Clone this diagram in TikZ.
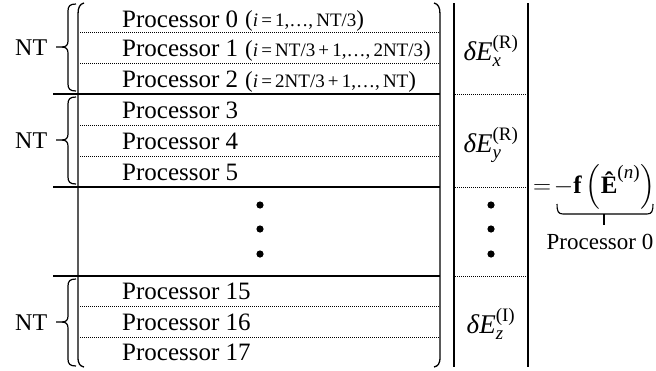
\documentclass[tikz,border=0pt]{standalone}
\usepackage{fix-cm}
\usepackage{amsmath}
\usepackage{fontspec}
\setmainfont{Liberation Serif}
\begin{document}
\begin{tikzpicture}[x=1pt,y=-1pt,
  solidline/.style={line width=1.3pt},
  dotline/.style={line width=0.8pt,dash pattern=on 0.8pt off 1.2pt},
  proc/.style={anchor=base west,inner sep=0pt,font=\fontsize{25}{30}\selectfont},
  rng/.style={anchor=base west,inner sep=0pt,font=\fontsize{19}{23}\selectfont},
  ntlab/.style={anchor=base west,inner sep=0pt,font=\fontsize{24}{29}\selectfont},
  vec/.style={anchor=base,inner sep=0pt,font=\fontsize{27}{32}\selectfont},
  eqn/.style={anchor=base west,inner sep=0pt,font=\fontsize{25}{30}\selectfont},
  bigdot/.style={fill=black},
  ntbr/.pic={
    \draw[line width=1.2pt] (20,-43) .. controls (14,-43) and (12,-41) .. (12,-36) -- (12,-6)
      .. controls (12,-2) and (10,0) .. (6,0) -- (0,0);
    \draw[line width=1.2pt] (6,0) .. controls (10,0) and (12,2) .. (12,6) -- (12,37)
      .. controls (12,42) and (14,44) .. (20,44);
  }]
\useasboundingbox (0,0) rectangle (656,370);
\newcommand\supR[1]{\text{\fontsize{19}{21}\selectfont(#1)}}
\newcommand\bigpar[1]{{\fontsize{23}{23}\selectfont\raisebox{-0.5pt}{#1}}}

% big matrix brackets
\draw[solidline] (84,3) .. controls (80,4) and (78,7) .. (78,14) -- (78,357) .. controls (78,364) and (80,366) .. (84,367);
\draw[solidline] (434,3) .. controls (438,4) and (440,7) .. (440,14) -- (440,357) .. controls (440,364) and (438,366) .. (434,367);

% solid separators
\foreach \yy in {94,187,276} \draw[solidline] (53,\yy) -- (440,\yy);
% dotted separators
\foreach \yy in {32,63,125,156,306,337} \draw[dotline] (80,\yy) -- (439,\yy);

% processor labels
\node[proc] (p0) at (122,27) {Processor 0};
\node[proc] (p1) at (122,56) {Processor 1};
\node[proc] (p2) at (122,87) {Processor 2};
\node[proc] (p3) at (122,118) {Processor 3};
\node[proc] (p4) at (122,149) {Processor 4};
\node[proc] (p5) at (122,180) {Processor 5};
\node[proc] (p15) at (122,299) {Processor 15};
\node[proc] (p16) at (122,330) {Processor 16};
\node[proc] (p17) at (122,360) {Processor 17};

\node[rng] (r0) at (245,26) {\bigpar{(}\textit{i}\,=\,1,…,\,NT/3\bigpar{)}};
\node[rng] (r1) at (245,56) {\bigpar{(}\textit{i}\,=\,NT/3\,+\,1,…,\,2NT/3\bigpar{)}};
\node[rng] (r2) at (245,87) {\bigpar{(}\textit{i}\,=\,2NT/3\,+\,1,…,\,NT\bigpar{)}};

% dots in matrix
\foreach \yy in {205,229,254} \fill[bigdot] (260,\yy) circle (3.6pt);

% NT braces
\pic at (56,47) {ntbr};
\pic at (56,140) {ntbr};
\pic at (56,322) {ntbr};
\node[ntlab] (nt1) at (15,55) {NT};
\node[ntlab] (nt2) at (15,148) {NT};
\node[ntlab] (nt3) at (15,330) {NT};

% vector
\draw[line width=1.2pt] (454,3) -- (454,367);
\draw[line width=1.2pt] (528,3) -- (528,367);
\foreach \yy in {94,187,276} \draw[dotline] (455,\yy) -- (527,\yy);
\node[vec] (ex) at (491,60) {$\text{\itshape δE}^{\supR{R}}_{\text{\itshape x}}$};
\node[vec] (ey) at (491,152) {$\text{\itshape δE}^{\supR{R}}_{\text{\itshape y}}$};
\node[vec] (ez) at (491,333) {$\text{\itshape δE}^{\supR{I}}_{\text{\itshape z}}$};
\foreach \yy in {205,229,254} \fill[bigdot] (491,\yy) circle (3.6pt);

% equation
\node[eqn] (eq) at (533,193) {$=\!-\text{\bfseries f}\left(\text{\bfseries Ê}^{\supR{\textit{n}}}\right)$};
\draw[line width=1.1pt] (557,204) .. controls (557,211) and (558,214) .. (563,214) -- (647,214)
  .. controls (652,214) and (653,211) .. (653,204);
\draw[line width=1.6pt] (604,214) -- (604,225);
\node[anchor=center,inner sep=0pt,font=\fontsize{23}{27}\selectfont] (pz) at (600,242) {Processor 0};
\end{tikzpicture}
\end{document}
